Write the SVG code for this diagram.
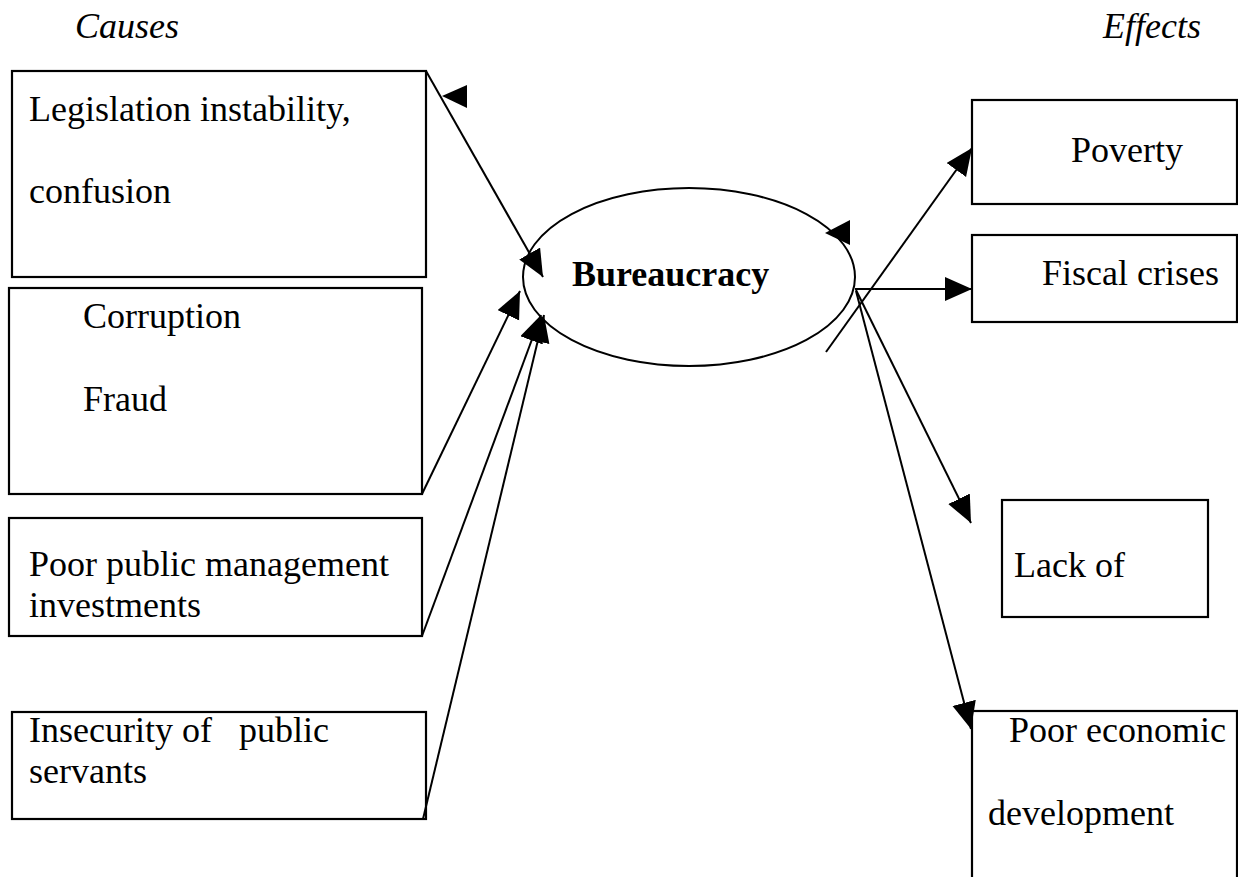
<svg xmlns="http://www.w3.org/2000/svg" width="1238" height="877" viewBox="0 0 1238 877">
<style>
  .box { fill: #fff; stroke: #000; stroke-width: 2.2; }
  .t { font-family: "Liberation Serif", "Times New Roman", serif; font-size: 36px; fill: #000; }
  .hd { font-style: italic; }
  .b { font-weight: bold; }
  .c { stroke: #000; stroke-width: 2; fill: none; }
  .head { fill: #000; stroke: none; }
</style>
<defs>
  <marker id="arr" markerUnits="userSpaceOnUse" markerWidth="28" markerHeight="26" refX="27" refY="12" orient="auto" viewBox="0 0 28 26">
    <path d="M0,0 L27,12 L0,24 z" fill="#000"/>
  </marker>
</defs>
<rect width="1238" height="877" fill="#fff"/>

<text class="t hd" x="75" y="38">Causes</text>
<text class="t hd" x="1103" y="38">Effects</text>

<g id="cause-legislation">
  <rect class="box" x="12" y="71" width="414" height="206"/>
  <text class="t" x="29" y="121">Legislation instability,</text>
  <text class="t" x="29" y="203">confusion</text>
</g>
<g id="cause-corruption">
  <rect class="box" x="9" y="288" width="413" height="206"/>
  <text class="t" x="83" y="328">Corruption</text>
  <text class="t" x="83" y="411">Fraud</text>
</g>
<g id="cause-management">
  <rect class="box" x="9" y="518" width="413" height="118"/>
  <text class="t" x="29" y="576">Poor public management</text>
  <text class="t" x="29" y="617">investments</text>
</g>
<g id="cause-insecurity">
  <rect class="box" x="12" y="712" width="414" height="107"/>
  <text class="t" x="29" y="742" xml:space="preserve">Insecurity of   public</text>
  <text class="t" x="29" y="783">servants</text>
</g>

<g id="bureaucracy">
  <ellipse cx="689" cy="277" rx="166" ry="89" fill="#fff" stroke="#000" stroke-width="2"/>
  <text class="t b" x="572" y="286">Bureaucracy</text>
</g>

<g id="effect-poverty">
  <rect class="box" x="972" y="100" width="265" height="104"/>
  <text class="t" x="1071" y="162">Poverty</text>
</g>
<g id="effect-fiscal">
  <rect class="box" x="972" y="235" width="265" height="87"/>
  <text class="t" x="1042" y="285">Fiscal crises</text>
</g>
<g id="effect-lack">
  <rect class="box" x="1002" y="500" width="206" height="117"/>
  <text class="t" x="1014" y="577">Lack of</text>
</g>
<g id="effect-development">
  <rect class="box" x="972" y="711" width="265" height="180"/>
  <text class="t" x="1009" y="742">Poor economic</text>
  <text class="t" x="988" y="825">development</text>
</g>

<g id="connectors">
  <line class="c" x1="426" y1="71" x2="543" y2="277" marker-end="url(#arr)"/>
  <line class="c" x1="422" y1="494" x2="520" y2="291" marker-end="url(#arr)"/>
  <line class="c" x1="422" y1="636" x2="541" y2="315" marker-end="url(#arr)"/>
  <line class="c" x1="423" y1="819" x2="544" y2="315" marker-end="url(#arr)"/>
  <polygon class="head" points="442,96 467,85 467,108"/>
  <polygon class="head" points="825,233 850,220 850,245"/>
  <line class="c" x1="826" y1="352" x2="972" y2="148" marker-end="url(#arr)"/>
  <line class="c" x1="855" y1="289" x2="972" y2="289" marker-end="url(#arr)"/>
  <line class="c" x1="856" y1="290" x2="971" y2="523" marker-end="url(#arr)"/>
  <line class="c" x1="856" y1="291" x2="971" y2="729" marker-end="url(#arr)"/>
</g>
</svg>
